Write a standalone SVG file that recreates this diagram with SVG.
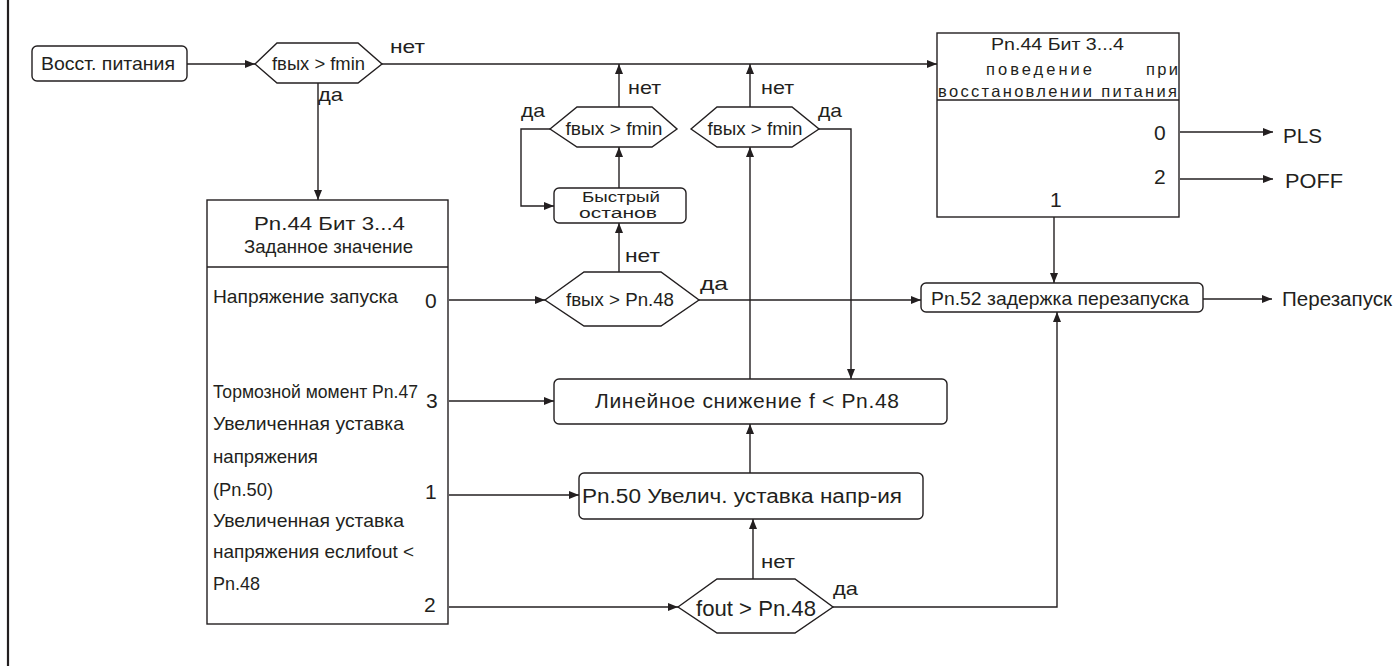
<svg xmlns="http://www.w3.org/2000/svg" width="1397" height="666" viewBox="0 0 1397 666">
<defs>
<marker id="ah" viewBox="0 0 10 8" refX="10" refY="4" markerWidth="10" markerHeight="8" markerUnits="userSpaceOnUse" orient="auto">
<path d="M0,0 L10,4 L0,8 z" fill="#231f20"/>
</marker>
</defs>
<style>
.s{fill:#fff;stroke:#231f20;stroke-width:1.4}
.c{fill:none;stroke:#231f20;stroke-width:1.4;marker-end:url(#ah)}
.l{fill:none;stroke:#231f20;stroke-width:1.4}
text{font-family:"Liberation Sans",Arial,sans-serif;fill:#231f20}
.m{text-anchor:middle}
.e{text-anchor:end}
.lb{font-size:19px}
.b{font-size:19px}
.d{font-size:21px}
</style>
<rect width="1397" height="666" fill="#fff"/>
<line x1="8" y1="0" x2="8" y2="666" stroke="#231f20" stroke-width="2.2"/>

<g id="connectors">
<path class="c" d="M187,64 H255"/>
<path class="c" d="M382,64 H937"/>
<path class="c" d="M318,83 V200"/>
<path class="c" d="M449,300 H545"/>
<path class="c" d="M449,401 H554"/>
<path class="c" d="M449,495 H579"/>
<path class="c" d="M449,607 H678"/>
<path class="c" d="M619,272 V223"/>
<path class="c" d="M619,188 V147"/>
<path class="c" d="M619,107 V64"/>
<path class="c" d="M550,129 H521 V206 H554"/>
<path class="c" d="M699,300 H921"/>
<path class="c" d="M750,379 V147"/>
<path class="c" d="M750,107 V64"/>
<path class="c" d="M819,129 H851 V379"/>
<path class="c" d="M750,473 V424"/>
<path class="c" d="M753,579 V519"/>
<path class="c" d="M833,607 H1057 V312"/>
<path class="c" d="M1054,217 V283"/>
<path class="c" d="M1180,132 H1273"/>
<path class="c" d="M1180,179 H1273"/>
<path class="c" d="M1203,299 H1272"/>
<text class="lb" x="390" y="53" textLength="35" lengthAdjust="spacingAndGlyphs">нет</text>
<text class="lb" x="318" y="101" textLength="25" lengthAdjust="spacingAndGlyphs">да</text>
<text class="lb" x="628" y="94" textLength="33" lengthAdjust="spacingAndGlyphs">нет</text>
<text class="lb" x="521" y="117" textLength="24" lengthAdjust="spacingAndGlyphs">да</text>
<text class="lb" x="761" y="94" textLength="33" lengthAdjust="spacingAndGlyphs">нет</text>
<text class="lb" x="818" y="117" textLength="24" lengthAdjust="spacingAndGlyphs">да</text>
<text class="lb" x="625" y="262" textLength="35" lengthAdjust="spacingAndGlyphs">нет</text>
<text class="lb" x="700" y="290" textLength="28" lengthAdjust="spacingAndGlyphs">да</text>
<text class="lb" x="761" y="568" textLength="34" lengthAdjust="spacingAndGlyphs">нет</text>
<text class="lb" x="833" y="595" textLength="25" lengthAdjust="spacingAndGlyphs">да</text>
</g>

<g id="n-restore">
<rect class="s" x="32" y="46" width="155" height="35" rx="5"/>
<text x="41" y="70" font-size="18.5" textLength="134" lengthAdjust="spacingAndGlyphs">Восст.  питания</text>
</g>

<g id="n-hex1">
<polygon class="s" points="255,64 277,43 358,43 382,64 358,83 277,83"/>
<text x="318.5" y="70" font-size="18" class="m" textLength="93" lengthAdjust="spacingAndGlyphs">fвых &gt; fmin</text>
</g>

<g id="n-hex2">
<polygon class="s" points="550,129 577,107 652,107 677,129 652,147 577,147"/>
<text x="614" y="135" font-size="18.5" class="m" textLength="97" lengthAdjust="spacingAndGlyphs">fвых &gt; fmin</text>
</g>

<g id="n-hex3">
<polygon class="s" points="691,129 717,107 792,107 819,129 792,147 717,147"/>
<text x="755" y="135" font-size="18.5" class="m" textLength="95" lengthAdjust="spacingAndGlyphs">fвых &gt; fmin</text>
</g>

<g id="n-quickstop">
<rect class="s" x="554" y="188" width="132" height="35" rx="5"/>
<text x="621" y="202" font-size="15.5" class="m" textLength="78" lengthAdjust="spacingAndGlyphs">Быстрый</text>
<text x="618" y="218" font-size="15.5" class="m" textLength="78" lengthAdjust="spacingAndGlyphs">останов</text>
</g>

<g id="n-hexPn48">
<polygon class="s" points="545,300 584,272 661,272 699,300 661,326 584,326"/>
<text x="620" y="306" font-size="18" class="m" textLength="108" lengthAdjust="spacingAndGlyphs">fвых &gt; Pn.48</text>
</g>

<g id="n-setpoint">
<rect class="s" x="207" y="200" width="241" height="424"/>
<line class="l" x1="207" y1="267" x2="448" y2="267"/>
<text x="329.5" y="230" font-size="19" class="m" textLength="151" lengthAdjust="spacingAndGlyphs">Pn.44 Бит 3...4</text>
<text x="328.5" y="253" font-size="18.5" class="m" textLength="169" lengthAdjust="spacingAndGlyphs">Заданное значение</text>
<text class="b" x="213" y="303" textLength="185" lengthAdjust="spacingAndGlyphs">Напряжение запуска</text>
<text class="d" x="425" y="308">0</text>
<text x="213" y="398" font-size="17.5" textLength="205" lengthAdjust="spacingAndGlyphs">Тормозной момент Pn.47</text>
<text class="d" x="426" y="408">3</text>
<text class="b" x="213" y="430" textLength="191" lengthAdjust="spacingAndGlyphs">Увеличенная уставка</text>
<text class="b" x="213" y="463" textLength="105" lengthAdjust="spacingAndGlyphs">напряжения</text>
<text class="b" x="213" y="496" textLength="60" lengthAdjust="spacingAndGlyphs">(Pn.50)</text>
<text class="d" x="425" y="499">1</text>
<text class="b" x="213" y="527" textLength="191" lengthAdjust="spacingAndGlyphs">Увеличенная уставка</text>
<text class="b" x="213" y="558" textLength="201" lengthAdjust="spacingAndGlyphs">напряжения еслиfout &lt;</text>
<text class="b" x="213" y="590" textLength="47" lengthAdjust="spacingAndGlyphs">Pn.48</text>
<text class="d" x="424" y="612">2</text>
</g>

<g id="n-ramp">
<rect class="s" x="554" y="379" width="393" height="45" rx="5"/>
<text x="595" y="408" font-size="21" textLength="304" lengthAdjust="spacing">Линейное снижение f &lt; Pn.48</text>
</g>

<g id="n-boost">
<rect class="s" x="579" y="473" width="344" height="46" rx="5"/>
<text x="582" y="503" font-size="20" textLength="320" lengthAdjust="spacingAndGlyphs">Pn.50 Увелич. уставка напр-ия</text>
</g>

<g id="n-hexfout">
<polygon class="s" points="678,607 717,579 795,579 833,607 795,633 717,633"/>
<text x="756" y="616" font-size="22" class="m" textLength="120" lengthAdjust="spacingAndGlyphs">fout &gt; Pn.48</text>
</g>

<g id="n-behaviour">
<rect class="s" x="937" y="33" width="242" height="184"/>
<line class="l" x1="937" y1="100" x2="1179" y2="100"/>
<text x="1057.5" y="50" font-size="16.5" class="m" textLength="133" lengthAdjust="spacingAndGlyphs">Pn.44 Бит 3...4</text>
<text x="986" y="75" font-size="16.5" textLength="106" lengthAdjust="spacing">поведение</text>
<text x="1146" y="75" font-size="16.5" textLength="32" lengthAdjust="spacing">при</text>
<text x="938" y="97" font-size="16.5" textLength="239" lengthAdjust="spacing">восстановлении питания</text>
<text class="d" x="1154" y="140">0</text>
<text class="d" x="1154" y="184">2</text>
<text class="d" x="1050" y="207">1</text>
</g>

<g id="n-pls"><text x="1283" y="143" font-size="20.5" textLength="39" lengthAdjust="spacingAndGlyphs">PLS</text></g>
<g id="n-poff"><text x="1285" y="188" font-size="20.5" textLength="58" lengthAdjust="spacingAndGlyphs">POFF</text></g>

<g id="n-delay">
<rect class="s" x="921" y="283" width="282" height="29" rx="5"/>
<text x="931" y="305" font-size="19" textLength="258" lengthAdjust="spacingAndGlyphs">Pn.52 задержка перезапуска</text>
</g>

<g id="n-restart"><text x="1282" y="306" font-size="19.5" textLength="110" lengthAdjust="spacingAndGlyphs">Перезапуск</text></g>
</svg>
